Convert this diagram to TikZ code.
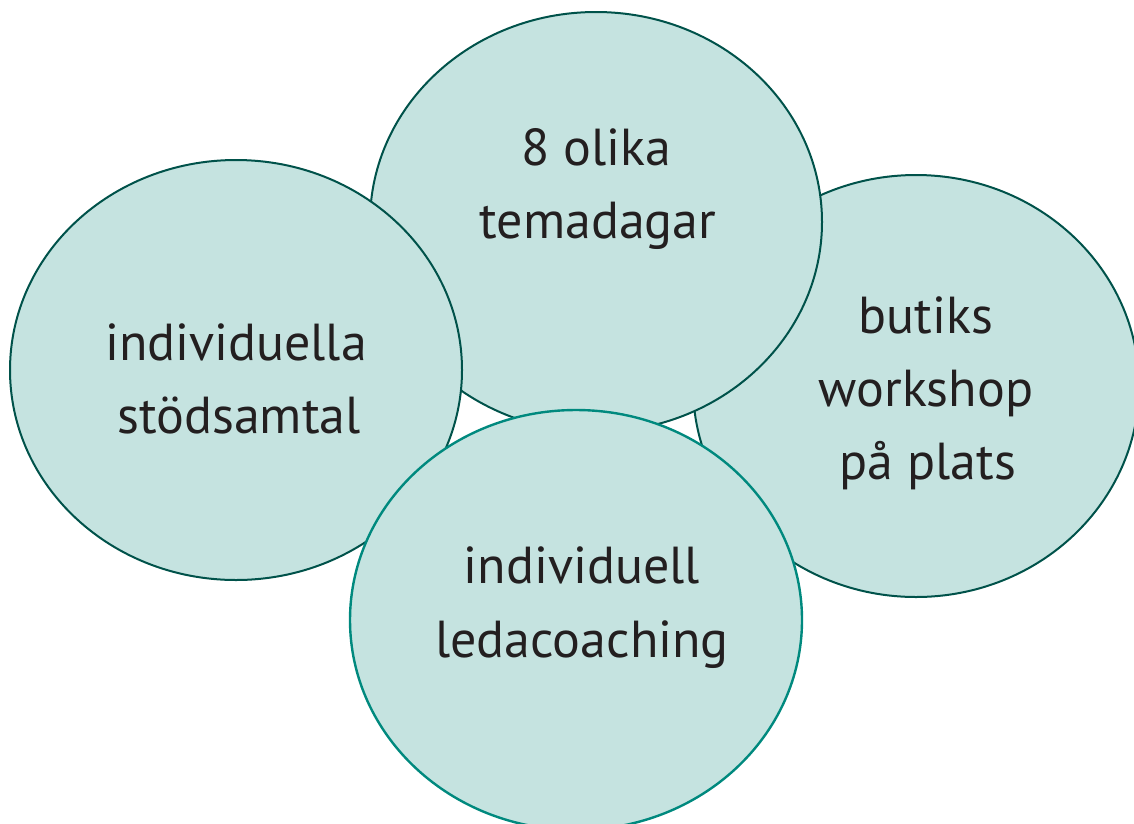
\documentclass[tikz,border=0pt]{standalone}
\usepackage{fontspec}
\setmainfont{PT Sans}
\usetikzlibrary{shapes.geometric}
\definecolor{bubblefill}{HTML}{C5E3E0}
\definecolor{darkrim}{HTML}{00524A}
\definecolor{lightrim}{HTML}{00897E}
\definecolor{inktext}{HTML}{231F20}
\tikzset{
  bubble/.style={ellipse, fill=bubblefill, draw=darkrim, line width=2pt,
    minimum width=452pt, minimum height=420pt, inner sep=0pt},
  frontbubble/.style={bubble, draw=lightrim, line width=2.4pt},
  label/.style={anchor=base, text=inktext, inner sep=0pt,
    font=\fontsize{52}{70}\selectfont}
}
\begin{document}
\begin{tikzpicture}[x=1pt,y=-1pt]
\useasboundingbox (0,0) rectangle (1134,823);
% back to front
\node[bubble, minimum width=446pt, minimum height=422pt] (right) at (916,386) {};
\node[bubble] (top) at (596,222) {};
\node[bubble] (left) at (236,370) {};
\node[frontbubble] (bottom) at (576,620) {};
% texts
\node[label] (t1) at (596,165) {8 olika};
\node[label] (t2) at (598,238) {temadagar};
\node[label] (l1) at (236,360) {individuella};
\node[label] (l2) at (239,433) {stödsamtal};
\node[label] (r1) at (926,333) {butiks};
\node[label] (r2) at (926,406) {workshop};
\node[label] (r3) at (928,479) {på plats};
\node[label] (b1) at (582,583) {individuell};
\node[label] (b2) at (582,657) {ledacoaching};
\end{tikzpicture}
\end{document}
